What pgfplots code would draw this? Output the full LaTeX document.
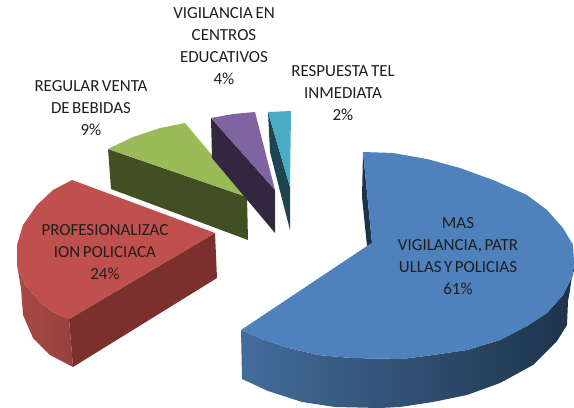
\documentclass[border=0pt]{standalone}
\usepackage{fontspec}
\setmainfont{Carlito}
\newfontfamily\labf[WordSpace=0.65]{Carlito}
\usepackage{pgfplots}
\pgfplotsset{compat=1.18}
\definecolor{txt}{HTML}{1E1E1E}
\definecolor{blueA}{HTML}{446C9B}
\definecolor{blueB}{HTML}{2B4566}
\definecolor{blueC}{HTML}{1D3349}
\definecolor{blueTop}{HTML}{4F81BD}
\definecolor{redTop}{HTML}{C0504D}
\definecolor{redDark}{HTML}{7B302E}
\definecolor{redA}{HTML}{A84A47}
\definecolor{redB}{HTML}{96403D}
\definecolor{greenTop}{HTML}{9BBB59}
\definecolor{greenDark}{HTML}{414F22}
\definecolor{purTop}{HTML}{8064A2}
\definecolor{purDark}{HTML}{33263F}
\definecolor{tealTop}{HTML}{4BACC6}
\definecolor{tealDark}{HTML}{1C4451}
\tikzset{lab/.style={font=\labf\fontsize{17}{22}\selectfont, align=center, text=txt, inner sep=0pt, anchor=center}}
\begin{document}
\begin{tikzpicture}
\path[use as bounding box] (0,0) rectangle (574bp,408bp);
\begin{axis}[
  at={(0,0)}, anchor=south west,
  scale only axis, width=574bp, height=408bp,
  xmin=0, xmax=574, ymin=0, ymax=408, y dir=reverse,
  hide axis, clip=true,
  every axis plot/.append style={no markers, draw=none, line width=0pt}
]
% blue
\addplot[shading=axis, shading angle=90, left color=blueA, middle color=blueB, right color=blueC] coordinates {
(241,330)(262,339)(285,347)(318,355)(352,358)(402,359)(433,355)(467,350)(500,340)(527,326)(547,313)(563,295)(573,275)(574,262)
(570,290)(568,301)(567,325)(557,341)(533,365)(500,383)(467,395)(433,402)(400,407)(380,408)(335,407)(302,402)(268,391)(242,379)} --cycle;
\addplot[fill=blueC] coordinates {(363,152)(362,197)(367,246)(372,243)} --cycle;
\addplot[fill=blueTop] coordinates {
(363,152)(393,153)(427,159)(460,168)(493,180)(527,195)(547,210)(563,228)(573,245)(574,262)(573,275)(563,295)(547,313)(527,326)(500,340)(467,350)(433,355)(402,359)(352,358)(318,355)(285,347)(262,339)(241,330)(367,246)(372,243)} --cycle;
% red
\addplot[fill=redDark] coordinates {(69,319)(215,233)(217,278)(73,367)} --cycle;
\addplot[shading=axis, shading angle=90, left color=redA, right color=redB] coordinates {
(17,265)(25,285)(40,302)(53,312)(69,319)(73,367)(50,355)(33,338)(23,315)(21,288)} --cycle;
\addplot[fill=redTop] coordinates {
(72,180)(53,190)(37,205)(23,225)(17,245)(17,265)(25,285)(40,302)(53,312)(69,319)(215,233)} --cycle;
% green
\addplot[fill=greenDark] coordinates {(108,149)(247,197)(248,240)(111,189)} --cycle;
\addplot[fill=greenTop] coordinates {(108,149)(133,137)(160,128)(185,123)(247,197)} --cycle;
% purple
\addplot[fill=purDark] coordinates {(211,118)(275,190)(275,233)(212,158)} --cycle;
\addplot[fill=purTop] coordinates {(211,118)(233,114)(255,112)(275,190)} --cycle;
% teal
\addplot[fill=tealDark] coordinates {(268,112)(290,187)(290,230)(270,152)} --cycle;
\addplot[fill=tealTop] coordinates {(268,112)(291,111)(290,187)} --cycle;
% labels
\node[lab] at (axis cs:224,46) {VIGILANCIA EN\\CENTROS\\EDUCATIVOS\\4\%};
\node[lab] at (axis cs:343,93) {RESPUESTA TEL\\INMEDIATA\\2\%};
\node[lab] at (axis cs:91,108) {REGULAR VENTA\\DE BEBIDAS\\9\%};
\node[lab] at (axis cs:105,252) {PROFESIONALIZAC\\ION POLICIACA\\24\%};
\node[lab] at (axis cs:458,256) {MAS\\VIGILANCIA, PATR\\ULLAS Y POLICIAS\\61\%};
\end{axis}
\end{tikzpicture}
\end{document}
